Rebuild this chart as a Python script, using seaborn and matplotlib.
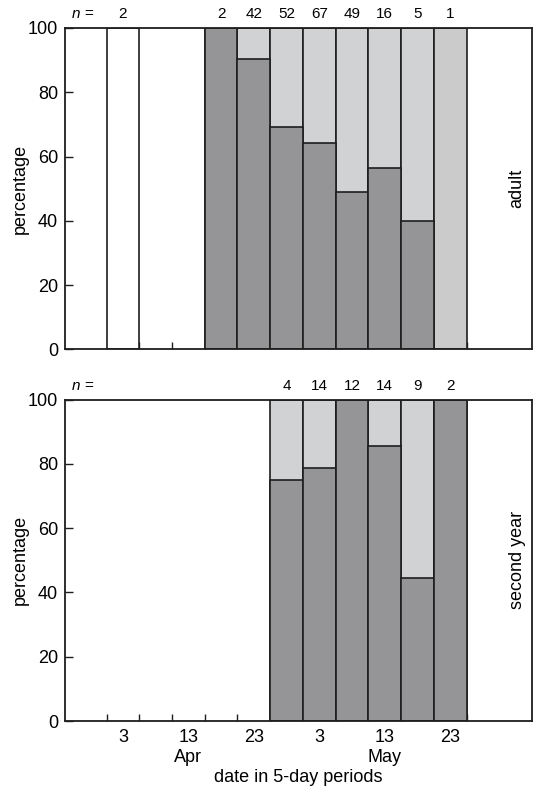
import numpy as np
import pandas as pd
import matplotlib
matplotlib.use("Agg")
import matplotlib.pyplot as plt
import seaborn as sns

# 5-day periods shown on the x axis
slots = ["Mar 29", "Apr 3", "Apr 8", "Apr 13", "Apr 18", "Apr 23", "Apr 28",
         "May 3", "May 8", "May 13", "May 18", "May 23", "May 28", "Jun 2"]
tick_slots = ["Apr 3", "Apr 13", "Apr 23", "May 3", "May 13", "May 23"]
tick_labels = ["3", "13\nApr", "23", "3", "13\nMay", "23"]

# adult birds
adult_slots = ["Apr 3", "Apr 18", "Apr 23", "Apr 28", "May 3", "May 8", "May 13", "May 18", "May 23"]
adult_n = [2, 2, 42, 52, 67, 49, 16, 5, 1]
adult_dark = [0, 100, 90.5, 69.2, 64.2, 49, 56.3, 40, 0]
adult_bg = ["white", "light", "light", "light", "light", "light", "light", "light", "pale"]

# second year birds
sy_slots = ["Apr 28", "May 3", "May 8", "May 13", "May 18", "May 23"]
sy_n = [4, 14, 12, 14, 9, 2]
sy_dark = [75, 78.6, 100, 85.7, 44.4, 100]
sy_bg = ["light", "light", "light", "light", "light", "light"]

bg_colors = {"white": "#ffffff", "light": "#d1d2d4", "pale": "#cbcbcb"}
dark_color = "#959597"
edge = "#1e1e1e"

sns.set_style("ticks")
plt.rcParams["font.family"] = ["Liberation Sans", "DejaVu Sans"]
plt.rcParams["text.color"] = "black"
plt.rcParams["axes.labelcolor"] = "black"
plt.rcParams["xtick.color"] = "black"
plt.rcParams["ytick.color"] = "black"


def draw_panel(ax, slot_list, n_list, dark_list, bg_list, label, show_x):
    df = pd.DataFrame({"slot": slot_list, "n": n_list, "dark": dark_list, "bg": bg_list})
    df["total"] = 100
    pal = {k: bg_colors[k] for k in df["bg"].unique()}
    sns.barplot(data=df, x="slot", y="total", hue="bg", order=slots, palette=pal,
                dodge=False, width=1.0, edgecolor=edge, linewidth=1.2,
                saturation=1, errorbar=None, legend=False, ax=ax)
    dk = df[df["dark"] > 0]
    sns.barplot(data=dk, x="slot", y="dark", order=slots, color=dark_color,
                width=1.0, edgecolor=edge, linewidth=1.2, saturation=1,
                errorbar=None, ax=ax)

    # sample sizes above the bars
    ax.text(-0.24, 104.3, "n =", style="italic", fontsize=11, ha="center", va="center")
    for s, n in zip(df["slot"], df["n"]):
        ax.text(slots.index(s), 104.3, str(n), fontsize=11, ha="center", va="center")

    ax.set_xlim(-0.77, 13.5)
    ax.set_ylim(0, 100)
    ax.set_yticks([0, 20, 40, 60, 80, 100])
    ax.set_xticks([slots.index(s) for s in tick_slots])
    ax.set_xticks(np.arange(0.5, 12, 1), minor=True)
    if show_x:
        ax.set_xticklabels(tick_labels)
        ax.set_xlabel("date in 5-day periods", fontsize=13, labelpad=2)
    else:
        ax.set_xticklabels([])
        ax.set_xlabel("")
    ax.tick_params(axis="x", which="major", length=0, labelsize=13, pad=6)
    ax.tick_params(axis="x", which="minor", direction="in", length=5, width=1, color=edge)
    ax.tick_params(axis="y", direction="in", length=6, width=1, color=edge, labelsize=13, pad=5)
    ax.set_ylabel("percentage", fontsize=13, labelpad=-1)
    for sp in ax.spines.values():
        sp.set_visible(True)
        sp.set_linewidth(1.3)
        sp.set_color(edge)
    ax.text(0.968, 0.5, label, transform=ax.transAxes, rotation=90,
            fontsize=13, ha="center", va="center")


fig, axes = plt.subplots(2, 1, figsize=(5.35, 7.88), dpi=100)
fig.subplots_adjust(left=0.1215, right=0.9944, top=0.9645, bottom=0.085, hspace=0.156)

draw_panel(axes[0], adult_slots, adult_n, adult_dark, adult_bg, "adult", False)
draw_panel(axes[1], sy_slots, sy_n, sy_dark, sy_bg, "second year", True)

fig.savefig("out.png", dpi=100)
